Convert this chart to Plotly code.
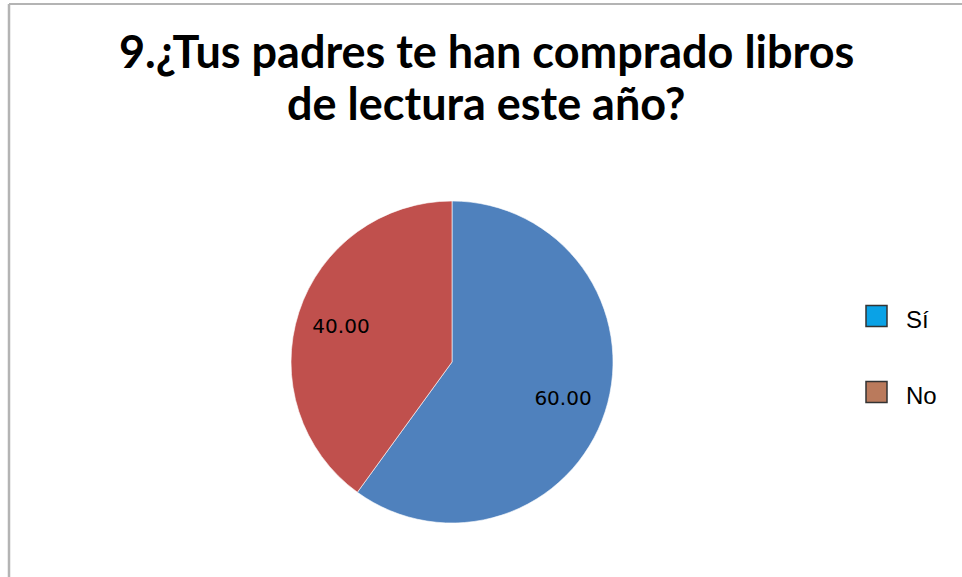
import plotly.graph_objects as go

categories = ["Sí", "No"]
values = [60.00, 40.00]
slice_colors = ["#4F81BD", "#C0504D"]
legend_colors = ["#0AA2E6", "#BA7A5C"]
title_lines = ["9.¿Tus padres te han comprado libros", "de lectura este año?"]

W, H = 962, 577
pie_domain = dict(x=[291 / W, 613 / W], y=[1 - 523 / H, 1 - 201 / H])

fig = go.Figure()
# the pie itself
fig.add_trace(go.Pie(
    labels=categories,
    values=values,
    sort=False,
    direction="clockwise",
    rotation=0,
    marker=dict(colors=slice_colors, line=dict(color="rgba(255,255,255,0.6)", width=1)),
    textinfo="none",
    domain=pie_domain,
    showlegend=False,
    hoverinfo="label+value",
))
# transparent ring carrying the data labels (places them at ~0.72 of the radius)
fig.add_trace(go.Pie(
    labels=categories,
    values=values,
    sort=False,
    direction="clockwise",
    rotation=0,
    hole=0.45,
    marker=dict(colors=["rgba(0,0,0,0)"] * len(values), line=dict(width=0)),
    texttemplate="%{value:.2f}",
    textposition="inside",
    insidetextorientation="horizontal",
    textfont=dict(family="DejaVu Sans", size=20, color="#000000"),
    domain=pie_domain,
    showlegend=False,
    hoverinfo="skip",
))

shapes = [
    # chart frame (left and top edges visible)
    dict(type="line", xref="paper", yref="paper", x0=9 / W, x1=9 / W, y0=0, y1=1 - 4 / H,
         line=dict(color="#B4B4B4", width=2.5)),
    dict(type="line", xref="paper", yref="paper", x0=9 / W, x1=1, y0=1 - 4 / H, y1=1 - 4 / H,
         line=dict(color="#B4B4B4", width=2)),
]
annotations = []

# legend
leg_x = 866
leg_y0 = 316
leg_dy = 76
sq = 21
for i, (cat, col) in enumerate(zip(categories, legend_colors)):
    cy = leg_y0 + i * leg_dy
    shapes.append(dict(type="rect", xref="paper", yref="paper",
                       x0=leg_x / W, x1=(leg_x + sq) / W,
                       y0=1 - (cy + sq / 2) / H, y1=1 - (cy - sq / 2) / H,
                       fillcolor=col, line=dict(color="#333333", width=1.5)))
    annotations.append(dict(text=cat, xref="paper", yref="paper",
                            x=(leg_x + sq + 17) / W, y=1 - (cy + 3) / H,
                            xanchor="left", yanchor="middle", showarrow=False,
                            font=dict(family="Liberation Sans", size=24, color="#000000")))

# title, one annotation per line
title_y = [51, 103]
for line, ty in zip(title_lines, title_y):
    annotations.append(dict(text=line, xref="paper", yref="paper",
                            x=486 / W, y=1 - ty / H, xanchor="center", yanchor="middle",
                            showarrow=False,
                            font=dict(family="Lato", size=45, color="#000000", weight="bold")))

fig.update_layout(
    width=W, height=H,
    margin=dict(l=0, r=0, t=0, b=0),
    paper_bgcolor="white",
    plot_bgcolor="white",
    shapes=shapes,
    annotations=annotations,
    showlegend=False,
)

fig.write_html("out.html", config={"displayModeBar": False},
               post_script="document.body.style.margin='0';")
